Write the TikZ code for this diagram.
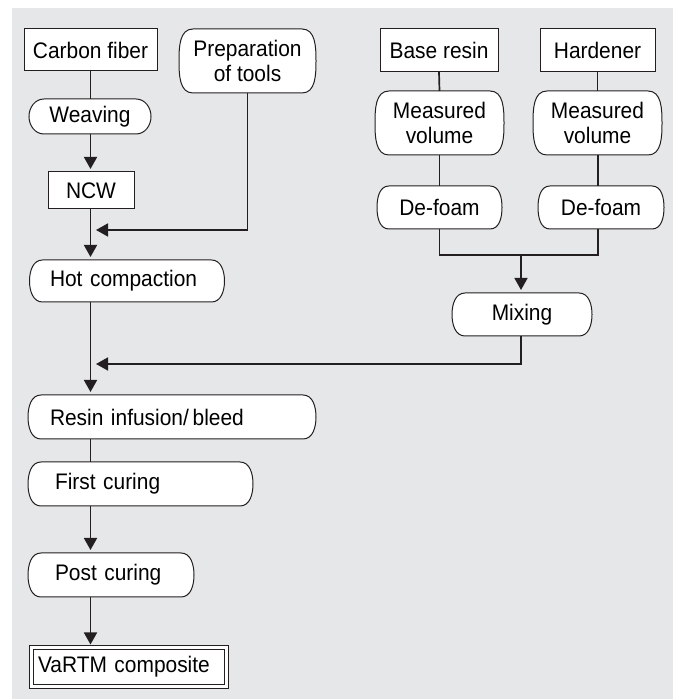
\documentclass[tikz,border=0pt]{standalone}
\usepackage{fontspec}
\setmainfont{Liberation Sans}[FakeStretch=0.93]
\usetikzlibrary{arrows.meta,calc}
\definecolor{bggray}{HTML}{E6E7E8}
\definecolor{ink}{HTML}{231F20}
\pgfdeclarelayer{bg}
\pgfdeclarelayer{outl}
\pgfsetlayers{bg,outl,main}
\newcommand\pillpath[2]{%
  \begin{pgfonlayer}{outl}
  \draw[outline] ([xshift=#1pt]#2.north west) -- ([xshift=-#1pt]#2.north east)
    to[out=0,in=90] (#2.east) to[out=-90,in=0] ([xshift=-#1pt]#2.south east)
    -- ([xshift=#1pt]#2.south west) to[out=180,in=-90] (#2.west)
    to[out=90,in=180] cycle;
  \end{pgfonlayer}}
\begin{document}
\begin{tikzpicture}[x=1pt,y=1pt,
  every node/.style={font=\fontsize{22.5pt}{25pt}\selectfont, text=black, outer sep=0pt},
  boxnode/.style={draw=ink, line width=1pt, fill=white, inner sep=0pt, align=center},
  pillnode/.style={inner sep=0pt, align=center},
  leftnode/.style={inner ysep=0pt, align=left},
  outline/.style={draw=ink, line width=1pt, fill=white},
  conn/.style={draw=ink, line width=1.7pt},
  arr/.style={conn, -{Triangle[length=12pt,width=13pt]}, shorten >=3pt},
  harr/.style={conn, -{Triangle[length=12pt,width=13pt]}}]
\useasboundingbox (0,0) rectangle (675,700);
\begin{pgfonlayer}{bg}
\fill[bggray] (12,1) rectangle (673,692);
\end{pgfonlayer}

% left column
\node[boxnode, minimum width=133pt, minimum height=42pt] (cf) at (90.5,650) {Carbon fiber};
\node[pillnode, minimum width=122pt, minimum height=35pt] (weave) at (90,583.5) {Weaving};
\node[boxnode, minimum width=86pt, minimum height=37pt] (ncw) at (91,509.5) {NCW};
\node[pillnode, minimum width=137pt, minimum height=64pt] (prep) at (247.5,639) {Preparation\\of tools};
\node[pillnode, leftnode, minimum height=42pt, text width=154pt, inner xsep=20.5pt] (hot) at (127,419) {Hot compaction};

% right column
\node[boxnode, minimum width=118pt, minimum height=43pt] (base) at (439,649.5) {Base resin};
\node[boxnode, minimum width=115pt, minimum height=43pt] (hard) at (597.5,649.5) {Hardener};
\node[pillnode, minimum width=129pt, minimum height=64pt] (mv1) at (439.5,577) {Measured\\volume};
\node[pillnode, minimum width=129pt, minimum height=64pt] (mv2) at (597.5,577) {Measured\\volume};
\node[pillnode, minimum width=125pt, minimum height=43pt] (df1) at (439.5,492.5) {De-foam};
\node[pillnode, minimum width=126pt, minimum height=43pt] (df2) at (601,492.5) {De-foam};
\node[pillnode, minimum width=140pt, minimum height=43pt] (mix) at (522,385.5) {Mixing};

% lower column
\node[pillnode, leftnode, minimum height=44pt, text width=244pt, inner xsep=22pt] (resin) at (172,283) {Resin infusion/\,bleed};
\node[pillnode, leftnode, minimum height=44pt, text width=171pt, inner xsep=27pt] (first) at (140.5,216) {First curing};
\node[pillnode, leftnode, minimum height=44pt, text width=112pt, inner xsep=27pt] (post) at (111,125) {Post curing};
\node[draw=ink, line width=1pt, double=white, double distance=3pt, fill=white, leftnode,
      minimum height=39pt, text width=182pt, inner xsep=6.5pt] (vartm) at (129,33) {VaRTM composite};

% outlines of rounded nodes
\pillpath{15}{weave}
\pillpath{14}{prep}
\pillpath{13}{hot}
\pillpath{14}{mv1}
\pillpath{14}{mv2}
\pillpath{12}{df1}
\pillpath{12}{df2}
\pillpath{13}{mix}
\pillpath{13}{resin}
\pillpath{13}{first}
\pillpath{13}{post}

% junction coordinates
\coordinate (sp) at (90.5,0);
\coordinate (j1) at (96,470);
\coordinate (mj) at (439.5,445);
\coordinate (mjx) at (521,445);
\coordinate (j2) at (96,336);

% connectors
\draw[conn] (sp |- cf.south) -- (sp |- weave.north);
\draw[arr] (sp |- weave.south) -- (sp |- ncw.north);
\draw[arr] (sp |- ncw.south) -- (sp |- hot.north);
\draw[harr] (prep.south) |- (j1);
\draw[conn] (base.south) -- (mv1.north);
\draw[conn] (hard.south) -- (mv2.north);
\draw[conn] (mv1.south) -- (df1.north);
\draw[conn] (mv2.south -| df2.south) ++(-3,0) -- ($(df2.north)+(-3,0)$);
\draw[conn] (df1.south) -- (mj) -- ($(mj -| df2.south)+(-3,0)$) -- ($(df2.south)+(-3,0)$);
\draw[arr] (mjx) -- (mjx |- mix.north);
\draw[harr] (mjx |- mix.south) |- (j2);
\draw[arr] (sp |- hot.south) -- (sp |- resin.north);
\draw[conn] (sp |- resin.south) -- (sp |- first.north);
\draw[arr] (sp |- first.south) -- (sp |- post.north);
\draw[arr] (sp |- post.south) -- (sp |- vartm.north);
\end{tikzpicture}
\end{document}
